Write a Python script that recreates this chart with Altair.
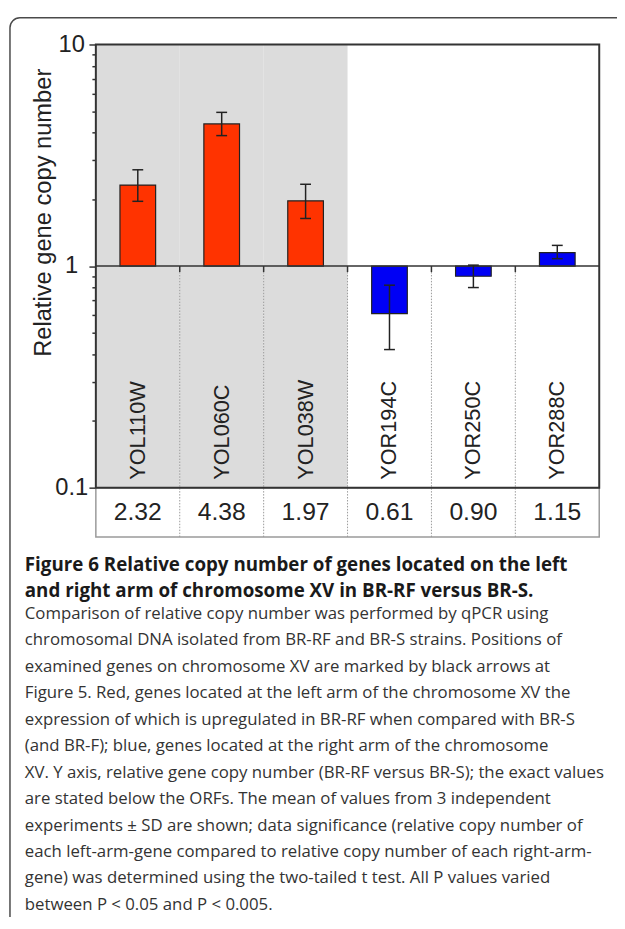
import altair as alt
import pandas as pd

# ---- data ----
genes = ["YOL110W", "YOL060C", "YOL038W", "YOR194C", "YOR250C", "YOR288C"]
arm = ["left", "left", "left", "right", "right", "right"]
values = [2.32, 4.38, 1.97, 0.61, 0.90, 1.15]
value_labels = ["2.32", "4.38", "1.97", "0.61", "0.90", "1.15"]
err_lo = [1.96, 3.88, 1.64, 0.42, 0.80, 1.08]
err_hi = [2.72, 4.94, 2.34, 0.82, 1.01, 1.24]
y_ticks = [0.1, 0.2, 0.3, 0.4, 0.5, 0.6, 0.7, 0.8, 0.9,
           1, 2, 3, 4, 5, 6, 7, 8, 9, 10]

caption_bold = [
    "Figure 6 Relative copy number of genes located on the left",
    "and right arm of chromosome XV in BR-RF versus BR-S.",
]
caption_body = [
    "Comparison of relative copy number was performed by qPCR using",
    "chromosomal DNA isolated from BR-RF and BR-S strains. Positions of",
    "examined genes on chromosome XV are marked by black arrows at",
    "Figure 5. Red, genes located at the left arm of the chromosome XV the",
    "expression of which is upregulated in BR-RF when compared with BR-S",
    "(and BR-F); blue, genes located at the right arm of the chromosome",
    "XV. Y axis, relative gene copy number (BR-RF versus BR-S); the exact values",
    "are stated below the ORFs. The mean of values from 3 independent",
    "experiments \u00b1 SD are shown; data significance (relative copy number of",
    "each left-arm-gene compared to relative copy number of each right-arm-",
    "gene) was determined using the two-tailed t test. All P values varied",
    "between P < 0.05 and P < 0.005.",
]

W, H = 510, 449
df = pd.DataFrame({
    "gene": genes, "arm": arm, "value": values, "label": value_labels,
    "lo": err_lo, "hi": err_hi, "base": [1.0] * len(genes),
})
one = pd.DataFrame({"base": [1.0]})

FONT = "Liberation Sans"
band = alt.Scale(paddingInner=0, paddingOuter=0)
x_enc = alt.X("gene:N", sort=genes, axis=None, scale=band)
x_start = alt.X("gene:N", sort=genes, axis=None, bandPosition=0, scale=band)
y_scale = alt.Scale(type="log", domain=[0.1, 10])

base = alt.Chart(df)

# grey background behind left-arm genes
bg = base.transform_filter(alt.datum.arm == "left").mark_rect(
    color="#dcdcdc").encode(x=x_enc, y=alt.value(0), y2=alt.value(H))

# dotted separators (plot + table) at band boundaries
seps = base.transform_filter(alt.datum.gene != genes[0]).mark_rule(
    color="#9a9a9a", strokeDash=[1.5, 1.5], strokeWidth=1
).encode(x=x_start, y=alt.Y("base:Q", scale=y_scale), y2=alt.value(H + 50))

# small dark ticks on the baseline
base_ticks = base.transform_filter(alt.datum.gene != genes[0]).mark_rule(
    color="#333333", strokeWidth=1.5, y2Offset=6
).encode(x=x_start, y=alt.Y("base:Q", scale=y_scale), y2="base:Q")

bars = base.mark_bar(width=alt.RelativeBandSize(0.425), stroke="#222222",
                     strokeWidth=1.2).encode(
    x=x_enc,
    y=alt.Y("value:Q", scale=y_scale,
            axis=alt.Axis(
                values=y_ticks, format="~g",
                labelExpr="datum.value == 0.1 || datum.value == 1 || datum.value == 10 ? datum.label : ''",
                labelOverlap=False, labelFlush=False, labelAlign="center",
                labelPadding=18, labelFontSize=24, labelFont=FONT,
                labelColor="#222222", labelBaseline="middle",
                domain=False, grid=False, tickColor="#333333", tickWidth=1.5,
                tickSize={"condition": {"test": "datum.value == 0.1 || datum.value == 1 || datum.value == 10",
                                        "value": 7}, "value": 4},
                title="Relative gene copy number", titleFont=FONT,
                titleFontSize=24, titleFontWeight="normal", titleColor="#222222",
                titleAngle=270, titleAlign="center", titleBaseline="middle",
                titleX=-53, titleY=170)),
    y2="base:Q",
    color=alt.Color("arm:N", legend=None,
                    scale=alt.Scale(domain=["left", "right"],
                                    range=["#ff3300", "#0000f5"])),
)

# baseline at 1
one_line = alt.Chart(one).mark_rule(color="#333333", strokeWidth=1.5).encode(
    y=alt.Y("base:Q", scale=y_scale), x=alt.value(0), x2=alt.value(W))

err = base.mark_rule(color="#222222", strokeWidth=1.5).encode(
    x=alt.X("gene:N", sort=genes, axis=None, bandPosition=0.5, scale=band),
    y=alt.Y("lo:Q", scale=y_scale), y2="hi:Q")
cap_lo = base.mark_tick(orient="horizontal", size=11, thickness=1.5,
                        color="#222222", opacity=1).encode(
    x=x_enc, y=alt.Y("lo:Q", scale=y_scale))
cap_hi = base.mark_tick(orient="horizontal", size=11, thickness=1.5,
                        color="#222222", opacity=1).encode(
    x=x_enc, y=alt.Y("hi:Q", scale=y_scale))

gene_text = base.mark_text(angle=270, align="left", baseline="middle",
                           fontSize=22, font=FONT, color="#222222").encode(
    x=x_enc, y=alt.value(H - 8), text="gene:N")

# table of exact values below the plot
table_box = alt.Chart(one).mark_rect(fill=None, stroke="#9a9a9a",
                                     strokeWidth=1.5).encode(
    x=alt.value(0), x2=alt.value(W), y=alt.value(H), y2=alt.value(H + 50))
val_text = base.mark_text(baseline="middle", fontSize=25, font=FONT,
                          color="#222222").encode(
    x=x_enc, y=alt.value(H + 25), text="label:N")

# plot border drawn on top
border = alt.Chart(one).mark_rect(fill=None, stroke="#333333",
                                  strokeWidth=2).encode(
    x=alt.value(0), x2=alt.value(W), y=alt.value(0), y2=alt.value(H))

# outer rounded frame and caption
frame = alt.Chart(one).mark_rect(fill=None, stroke="#4a4a4a", strokeWidth=1.5,
                                 cornerRadius=10).encode(
    x=alt.value(-87), x2=alt.value(W + 60), y=alt.value(-27), y2=alt.value(H + 460))
cap_b = alt.Chart(one).mark_text(
    align="left", baseline="alphabetic", font="Open Sans", fontWeight="bold",
    fontSize=19, lineHeight=26.7, color="#1a1a1a").encode(
    x=alt.value(-72), y=alt.value(533), text=alt.value(caption_bold))
cap_r = alt.Chart(one).mark_text(
    align="left", baseline="alphabetic", font="Open Sans", fontWeight="normal",
    fontSize=17, lineHeight=26.8, color="#333333").encode(
    x=alt.value(-72), y=alt.value(582), text=alt.value(caption_body))

chart = alt.layer(
    bg, seps, bars, one_line, base_ticks, err, cap_lo, cap_hi, gene_text,
    table_box, val_text, border, frame, cap_b, cap_r
).properties(
    width=W, height=H,
    padding={"left": 89, "top": 31, "right": 18, "bottom": 429},
    autosize=alt.AutoSizeParams(type="none"),
    background="white",
).configure_view(stroke=None)

chart.save("out.html", embed_options={"renderer": "svg", "actions": False})
